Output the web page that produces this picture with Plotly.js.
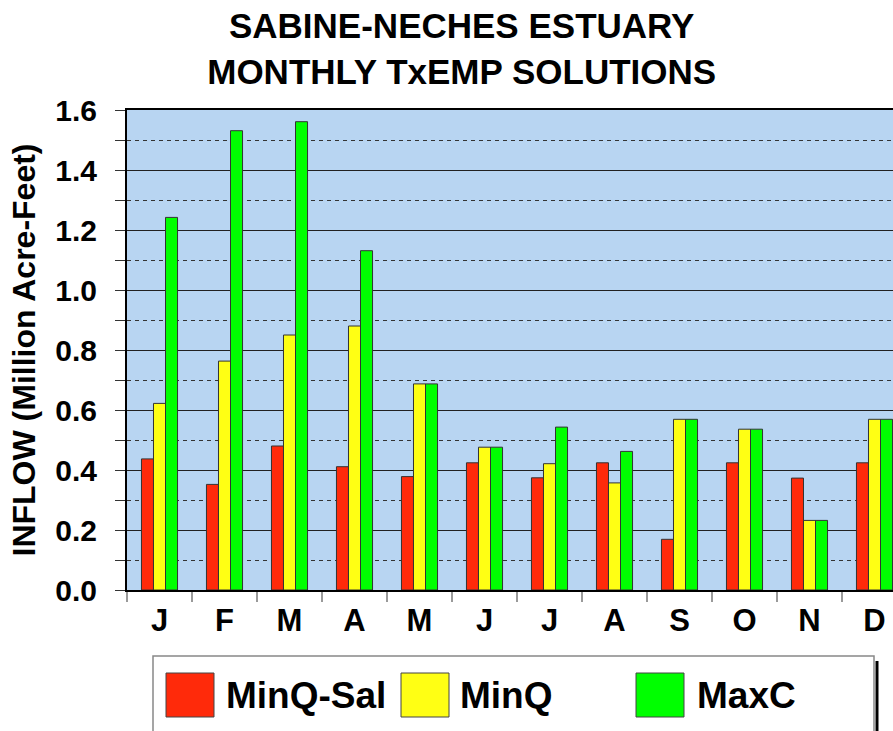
<!DOCTYPE html>
<html>
<head>
<meta charset="utf-8">
<script src="https://cdn.plot.ly/plotly-3.0.1.min.js"></script>
<style>html,body{margin:0;padding:0;background:#fff;}#chart{width:893px;height:731px;}</style>
</head>
<body>
<div id="chart"></div>
<script>
// ---- data ----
const months = ['J','F','M','A','M','J','J','A','S','O','N','D'];
const seriesNames = ['MinQ-Sal','MinQ','MaxC'];
const minQSal = [0.437, 0.352, 0.480, 0.411, 0.378, 0.424, 0.374, 0.424, 0.169, 0.424, 0.373, 0.424];
const minQ    = [0.622, 0.763, 0.850, 0.880, 0.687, 0.476, 0.421, 0.357, 0.569, 0.536, 0.232, 0.569];
const maxC    = [1.242, 1.531, 1.561, 1.131, 0.687, 0.476, 0.543, 0.462, 0.569, 0.536, 0.232, 0.569];
const yTicks  = [0, 0.2, 0.4, 0.6, 0.8, 1.0, 1.2, 1.4, 1.6];

// ---- styling ----
const colors = ['#ff2a0a', '#ffff14', '#00ff00'];
const FONT = 'Arial, "Liberation Sans", sans-serif';
const W = 893, H = 731, L = 127, T = 110, B = 141, R = 0;
const plotW = W - L - R, plotH = H - T - B;
const px2x = p => (p - L) / plotW;
const px2y = p => (H - B - p) / plotH;

const xIdx = months.map((_, i) => i);
const allSeries = [minQSal, minQ, maxC];

const traces = allSeries.map((vals, k) => ({
  type: 'bar',
  name: seriesNames[k],
  x: xIdx,
  y: vals,
  marker: {color: colors[k], line: {color: '#333333', width: 1}},
  hoverinfo: 'x+y+name',
  showlegend: false
}));

// manual legend (large swatches like reference)
const shapes = [];
const annotations = [];
shapes.push({type: 'rect', xref: 'paper', yref: 'paper',
  x0: px2x(153), x1: px2x(874), y0: px2y(745), y1: px2y(656),
  line: {color: '#888888', width: 1.5}, fillcolor: 'rgba(0,0,0,0)'});
shapes.push({type: 'line', xref: 'paper', yref: 'paper',
  x0: px2x(877), x1: px2x(877), y0: px2y(745), y1: px2y(661),
  line: {color: '#000000', width: 3}});
const swX = [166, 401, 636];
const txX = [224, 458, 695];
seriesNames.forEach((nm, k) => {
  shapes.push({type: 'rect', xref: 'paper', yref: 'paper',
    x0: px2x(swX[k]), x1: px2x(swX[k] + 48), y0: px2y(717), y1: px2y(673),
    line: {color: '#444444', width: 1}, fillcolor: colors[k]});
  annotations.push({xref: 'paper', yref: 'paper', x: px2x(txX[k]), y: px2y(695),
    xanchor: 'left', yanchor: 'middle', showarrow: false, text: '<b>' + nm + '</b>',
    font: {family: FONT, size: 37, color: '#000'}});
});

const layout = {
  width: W, height: H,
  margin: {l: L, r: R, t: T, b: B, pad: 0},
  paper_bgcolor: '#ffffff',
  plot_bgcolor: '#b8d5f2',
  font: {family: FONT, color: '#000'},
  title: {
    text: '<b>SABINE-NECHES ESTUARY<br>MONTHLY TxEMP SOLUTIONS</b>',
    font: {family: FONT, size: 35, color: '#000'},
    x: 0.517, xref: 'container', xanchor: 'center',
    y: 1 - 38 / H, yref: 'container', yanchor: 'middle'
  },
  barmode: 'group',
  bargap: 0.445,
  bargroupgap: 0,
  xaxis: {
    range: [-0.5, -0.5 + plotW / 65],
    tickmode: 'array', tickvals: xIdx, ticktext: months,
    ticks: '', ticklabelstandoff: 2,
    tickfont: {family: FONT, size: 31, color: '#000', weight: 'bold'},
    showgrid: false, zeroline: false,
    showline: true, linecolor: '#000', linewidth: 2, mirror: true,
    minor: {tick0: -0.5, dtick: 1, ticks: 'outside', ticklen: 10, tickcolor: '#9a9a9a', tickwidth: 1.5, showgrid: false},
    fixedrange: true
  },
  yaxis: {
    range: [0, 1.6],
    tickmode: 'array', tickvals: yTicks, tickformat: '.1f',
    ticks: 'outside', ticklen: 10, tickcolor: '#333', tickwidth: 1,
    ticklabelstandoff: 12,
    tickfont: {family: FONT, size: 30, color: '#000', weight: 'bold'},
    showgrid: true, gridcolor: '#222', gridwidth: 1,
    zeroline: false,
    showline: true, linecolor: '#000', linewidth: 2,
    minor: {dtick: 0.1, tick0: 0, ticks: 'outside', ticklen: 10, tickcolor: '#333', tickwidth: 1,
            showgrid: true, gridcolor: '#333', gridwidth: 1, griddash: '4px,4px'},
    title: {text: '<b>INFLOW (Million Acre-Feet)</b>', font: {family: FONT, size: 32, color: '#000'}, standoff: 10},
    fixedrange: true
  },
  shapes: shapes,
  annotations: annotations
};

Plotly.newPlot('chart', traces, layout, {displayModeBar: false, staticPlot: true});
</script>
</body>
</html>
